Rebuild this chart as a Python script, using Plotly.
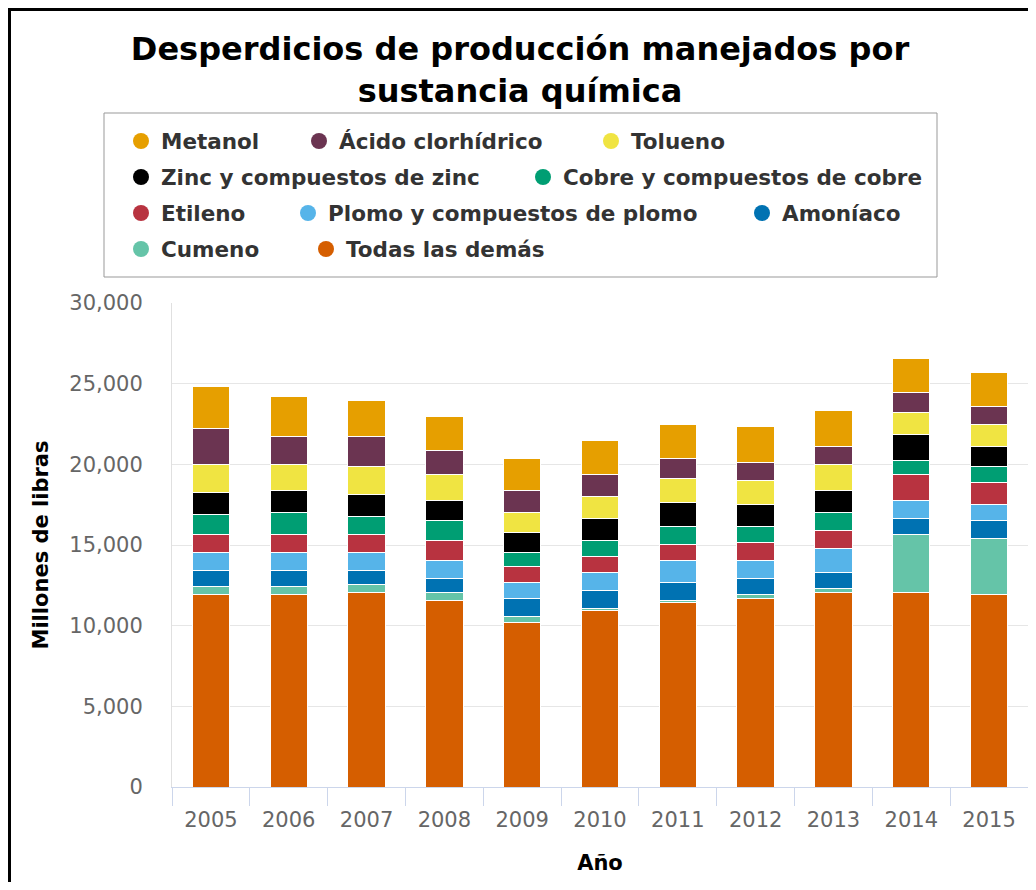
import plotly.graph_objects as go


# =====================================================
# DATA
# =====================================================

years = ["2005", "2006", "2007", "2008", "2009", "2010",
         "2011", "2012", "2013", "2014", "2015"]

todas = [11950, 11940, 12070, 11570, 10210, 10950, 11450, 11700, 12070, 12070, 11940]
cumeno = [480, 490, 490, 500, 370, 130, 120, 240, 250, 3590, 3480]
amoniaco = [1020, 1020, 890, 870, 1120, 1100, 1120, 1000, 990, 990, 1110]
plomo = [1090, 1090, 1090, 1100, 990, 1130, 1360, 1110, 1490, 1110, 990]
etileno = [1110, 1110, 1110, 1240, 990, 990, 990, 1120, 1110, 1610, 1370]
cobre = [1270, 1380, 1130, 1250, 870, 990, 1120, 990, 1120, 870, 990]
zinc = [1350, 1360, 1360, 1240, 1240, 1370, 1490, 1360, 1360, 1610, 1240]
tolueno = [1720, 1600, 1740, 1610, 1240, 1360, 1480, 1490, 1610, 1370, 1360]
acido = [2240, 1750, 1860, 1490, 1360, 1360, 1240, 1120, 1120, 1240, 1120]
metanol = [2600, 2480, 2230, 2110, 1980, 2110, 2110, 2230, 2230, 2100, 2100]

# stacking order, bottom first
series = [
    ("Todas las demás", todas, "#D55E00"),
    ("Cumeno", cumeno, "#65C4A8"),
    ("Amoníaco", amoniaco, "#0072B2"),
    ("Plomo y compuestos de plomo", plomo, "#56B4E9"),
    ("Etileno", etileno, "#B83340"),
    ("Cobre y compuestos de cobre", cobre, "#009E73"),
    ("Zinc y compuestos de zinc", zinc, "#000000"),
    ("Tolueno", tolueno, "#F0E442"),
    ("Ácido clorhídrico", acido, "#6B3451"),
    ("Metanol", metanol, "#E69F00"),
]

# legend rows as in the original (one small legend per entry)
legend_rows = [
    ["Metanol", "Ácido clorhídrico", "Tolueno"],
    ["Zinc y compuestos de zinc", "Cobre y compuestos de cobre"],
    ["Etileno", "Plomo y compuestos de plomo", "Amoníaco"],
    ["Cumeno", "Todas las demás"],
]


# =====================================================
# GEOMETRY HELPERS (screen pixels -> paper)
# =====================================================

OFF = 8            # page body margin
W, H = 1028, 874
L, R, T, B = 164, 8, 295, 95
PW = W - L - R
PH = H - T - B


def px_x(sx):
    return (sx - OFF - L) / PW


def px_y(sy):
    return (H - B - (sy - OFF)) / PH


FONT = "DejaVu Sans"

row_centers = [141, 177, 213, 249]
text_starts = [
    [161, 339, 631],
    [161, 563],
    [161, 328, 782],
    [161, 346],
]

# =====================================================
# FIGURE
# =====================================================

fig = go.Figure()

colors = {}
for name, vals, color in series:
    colors[name] = color
    fig.add_trace(
        go.Bar(
            x=years,
            y=vals,
            name=name,
            marker=dict(color=color, line=dict(color="white", width=1)),
            showlegend=False,
        )
    )

legend_style = dict(
    orientation="h",
    xanchor="left",
    yanchor="middle",
    bgcolor="rgba(0,0,0,0)",
    borderwidth=0,
    font=dict(family=FONT, size=21.5, color="#333333", weight="bold"),
    itemclick=False,
    itemdoubleclick=False,
)

layout_legends = {}
n = 0
for row, starts, cy in zip(legend_rows, text_starts, row_centers):
    for name, sx in zip(row, starts):
        n += 1
        lid = "legend" if n == 1 else f"legend{n}"
        layout_legends[lid] = dict(legend_style, x=px_x(sx - 40), y=px_y(cy))
        fig.add_trace(
            go.Scatter(
                x=[None],
                y=[None],
                mode="markers",
                name=name,
                marker=dict(color=colors[name], size=16, symbol="circle"),
                legend=lid,
                hoverinfo="skip",
            )
        )

fig.update_layout(
    width=W,
    height=H,
    barmode="stack",
    bargap=0.52,
    plot_bgcolor="white",
    paper_bgcolor="white",
    margin=dict(l=L, r=R, t=T, b=B),
    title=dict(
        text="Desperdicios de producción manejados por<br>sustancia química",
        x=(520 - OFF) / W,
        xanchor="center",
        yref="container",
        y=1 - 52 / H,
        yanchor="top",
        font=dict(family=FONT, size=32, color="black", weight="bold"),
    ),
    xaxis=dict(
        type="category",
        tickson="boundaries",
        ticks="outside",
        ticklen=18,
        tickcolor="#ccd6eb",
        showline=True,
        linecolor="#ccd6eb",
        showgrid=False,
        ticklabelstandoff=14,
        tickfont=dict(family=FONT, size=21, color="#666666"),
        title=dict(
            text="Año",
            font=dict(family=FONT, size=21, color="black", weight="bold"),
            standoff=24,
        ),
    ),
    yaxis=dict(
        range=[0, 30000],
        dtick=5000,
        tickformat=",",
        showgrid=True,
        gridcolor="#e6e6e6",
        zeroline=False,
        showline=True,
        linecolor="#e0e0e0",
        mirror=True,
        ticks="",
        ticklabelstandoff=24,
        tickfont=dict(family=FONT, size=21, color="#666666"),
        title=dict(
            text="Millones de libras",
            font=dict(family=FONT, size=21, color="black", weight="bold"),
            standoff=14,
        ),
    ),
    **layout_legends,
    shapes=[
        # legend box
        dict(
            type="rect", xref="paper", yref="paper",
            x0=px_x(104), x1=px_x(937), y0=px_y(277), y1=px_y(113),
            line=dict(color="#999999", width=1),
        ),
        # outer frame of the screenshot
        dict(
            type="rect", xref="paper", yref="paper",
            x0=px_x(OFF + 1.5), x1=px_x(1060), y0=px_y(920), y1=px_y(OFF + 1.5),
            line=dict(color="black", width=3),
        ),
    ],
)

fig.write_html("out.html")
